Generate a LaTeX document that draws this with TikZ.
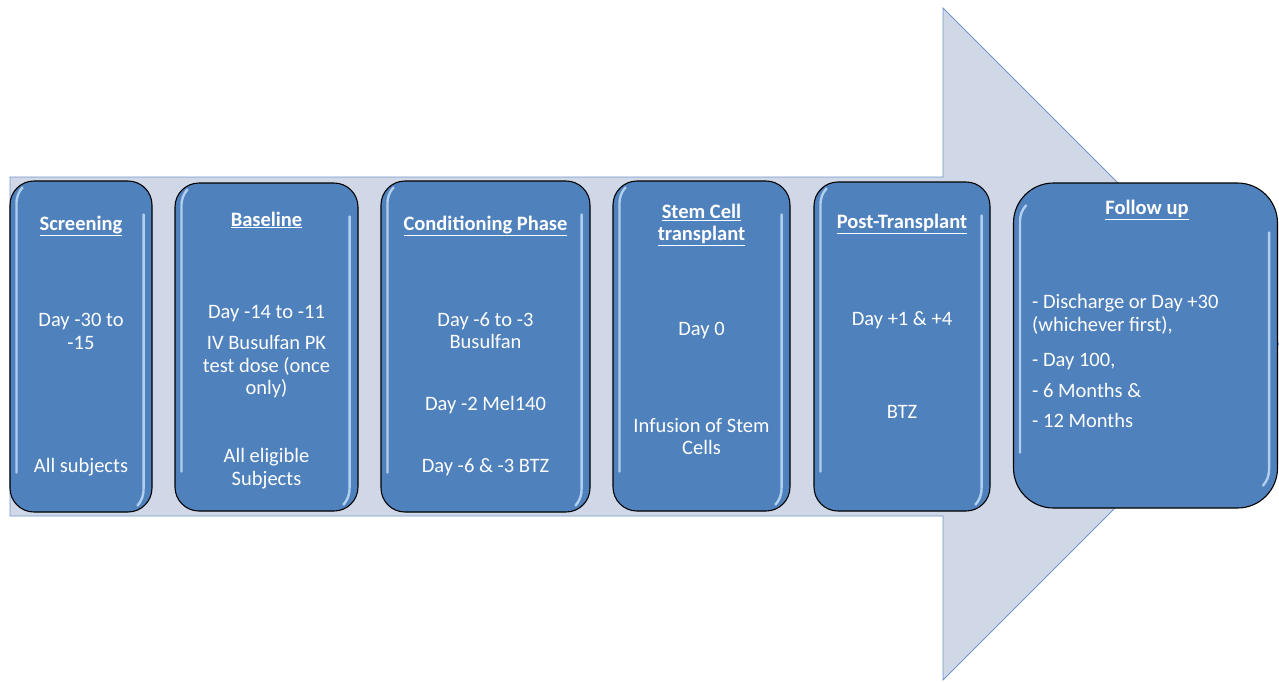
\documentclass[tikz,border=0pt]{standalone}
\usepackage{fontspec}
\setmainfont{Carlito}
\usetikzlibrary{calc}
\definecolor{boxblue}{HTML}{4F81BD}
\definecolor{arrowfill}{HTML}{D0D8E8}
\definecolor{arrowline}{HTML}{7096C9}
\definecolor{gloss}{HTML}{C4DDF7}
\begin{document}
\begin{tikzpicture}[x=1pt,y=-1pt,
  phase/.style={draw=black, line width=1.1pt, fill=boxblue, rounded corners=24pt, inner sep=0pt},
  txt/.style={text=white, font=\fontsize{20.5}{22.5}\selectfont, align=center, inner sep=0pt},
  ttl/.style={text=white, font=\bfseries\fontsize{20.5}{22.5}\selectfont, align=center, inner sep=0pt},
  glossline/.style={draw=gloss, line width=2.4pt, line cap=round, opacity=0.85}]
\useasboundingbox (0,0) rectangle (1279,681);
% big arrow
\draw[draw=arrowline, fill=arrowfill, line width=0.9pt]
  (10,177) -- (943,177) -- (943,8) -- (1279,344) -- (943,680) -- (943,516) -- (10,516) -- cycle;
% phase boxes
\node[phase, minimum width=142pt, minimum height=331pt] (s1) at (81,346.5) {};
\node[phase, minimum width=183pt, minimum height=328pt] (s2) at (266.5,347) {};
\node[phase, minimum width=209pt, minimum height=331pt] (s3) at (485.5,346.5) {};
\node[phase, minimum width=177pt, minimum height=330pt] (s4) at (701.5,346) {};
\node[phase, minimum width=176pt, minimum height=329pt] (s5) at (902,346.5) {};
\node[phase, rounded corners=40pt, minimum width=264pt, minimum height=325pt] (s6) at (1145.5,345.5) {};
% gloss highlights
\foreach \b/\r in {s1/24,s2/24,s3/24,s4/24,s5/24,s6/40}{
  \draw[glossline] ($(\b.south west)+(7,-\r-16)$) -- ($(\b.north west)+(7,\r)$)
     .. controls ($(\b.north west)+(7,\r-8)$) and ($(\b.north west)+(9,\r-12)$) .. ($(\b.north west)+(13,\r-17)$);
  \draw[glossline] ($(\b.north east)+(-9,\r+10)$) -- ($(\b.south east)+(-9,-\r)$)
     .. controls ($(\b.south east)+(-9,-\r+8)$) and ($(\b.south east)+(-11,-\r+12)$) .. ($(\b.south east)+(-15,-\r+17)$);
}
% Screening
\node[ttl] (t1) at (81,226) {\underline{Screening}};
\node[txt] (t1a) at (81,331.5) {Day -30 to\\-15};
\node[txt] (t1b) at (81,467) {All subjects};
% Baseline
\node[ttl] (t2) at (266.5,220) {\underline{Baseline}};
\node[txt] (t2a) at (266.5,314) {Day -14 to -11};
\node[txt] (t2b) at (266.5,367) {IV Busulfan PK\\test dose (once\\only)};
\node[txt] (t2c) at (266.5,468.5) {All eligible\\Subjects};
% Conditioning
\node[ttl] (t3) at (485.5,226) {\underline{Conditioning Phase}};
\node[txt] (t3a) at (485.5,330.5) {Day -6 to -3\\Busulfan};
\node[txt] (t3b) at (485.5,405) {Day -2 Mel140};
\node[txt] (t3c) at (485.5,467) {Day -6 \& -3 BTZ};
% Stem cell
\node[ttl] (t4) at (701.5,225) {\underline{Stem Cell}\\\underline{transplant}};
\node[txt] (t4a) at (701.5,330) {Day 0};
\node[txt] (t4b) at (701.5,436.5) {Infusion of Stem\\Cells};
% Post-transplant
\node[ttl] (t5) at (902,224) {\underline{Post-Transplant}};
\node[txt] (t5a) at (902,320) {Day +1 \& +4};
\node[txt] (t5b) at (902,412) {BTZ};
% Follow up
\node[ttl] (t6) at (1147,210) {\underline{Follow up}};
\node[txt, align=left, anchor=west] (t6a) at (1032,314.5) {- Discharge or Day +30\\(whichever first),};
\node[txt, anchor=west] (t6b) at (1032,361) {- Day 100,};
\node[txt, anchor=west] (t6c) at (1032,390) {- 6 Months \&};
\node[txt, anchor=west] (t6d) at (1032,420) {- 12 Months};
\end{tikzpicture}
\end{document}
